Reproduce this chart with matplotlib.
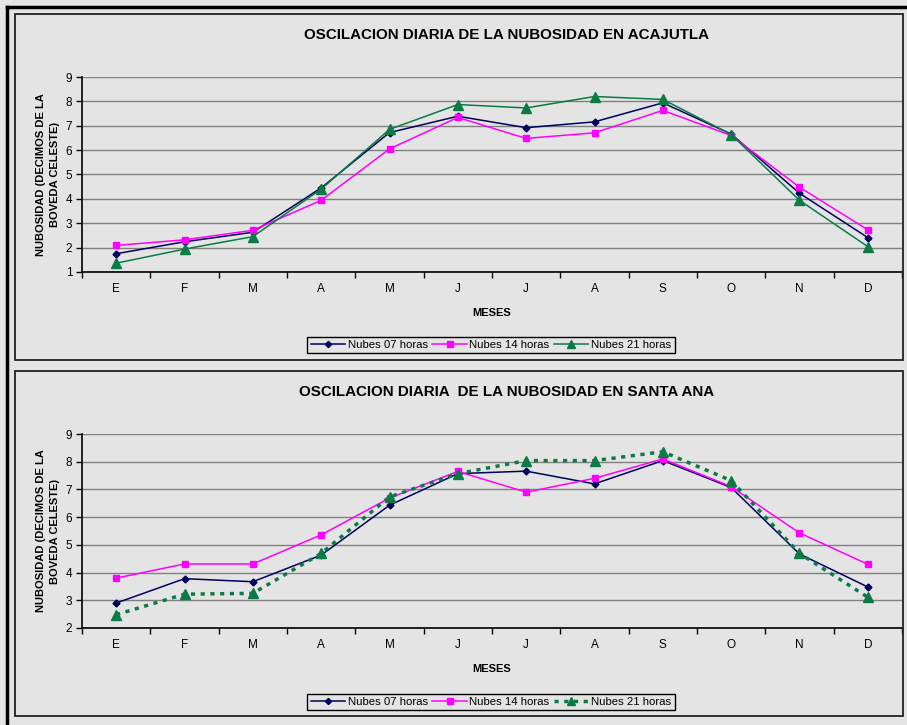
import numpy as np
import matplotlib.pyplot as plt
from matplotlib.patches import Rectangle
from matplotlib.lines import Line2D

plt.rcParams["font.family"] = ["Liberation Sans", "DejaVu Sans"]

meses = ["E", "F", "M", "A", "M", "J", "J", "A", "S", "O", "N", "D"]
series_names = ["Nubes 07 horas", "Nubes 14 horas", "Nubes 21 horas"]

acajutla_07 = [1.75, 2.24, 2.63, 4.45, 6.72, 7.39, 6.92, 7.16, 7.94, 6.66, 4.23, 2.41]
acajutla_14 = [2.09, 2.32, 2.71, 3.94, 6.05, 7.34, 6.48, 6.71, 7.63, 6.60, 4.48, 2.73]
acajutla_21 = [1.36, 1.94, 2.45, 4.40, 6.85, 7.87, 7.73, 8.20, 8.08, 6.64, 3.94, 2.04]

santaana_07 = [2.90, 3.78, 3.67, 4.63, 6.43, 7.57, 7.66, 7.20, 8.04, 7.07, 4.67, 3.48]
santaana_14 = [3.80, 4.31, 4.31, 5.36, 6.69, 7.65, 6.90, 7.40, 8.10, 7.10, 5.43, 4.30]
santaana_21 = [2.48, 3.22, 3.25, 4.69, 6.73, 7.57, 8.04, 8.04, 8.36, 7.32, 4.69, 3.11]

W, H = 907, 725
BG = "#e4e4e4"
C07, C14, C21 = "#000060", "#ff00ff", "#0b7a45"

fig = plt.figure(figsize=(W / 100, H / 100), dpi=100, facecolor=BG)


def fx(px):
    return px / W


def fy(py):
    return 1 - py / H


# frames (pixel coords from top-left)
fig.add_artist(Line2D([fx(7), fx(7)], [fy(7), fy(725)], color="black", lw=2.5))
fig.add_artist(Line2D([fx(7), fx(907)], [fy(7), fy(7)], color="black", lw=2.5))
for top, bot in [(14, 360), (371, 716)]:
    fig.add_artist(Rectangle((fx(15), fy(bot)), fx(903) - fx(15), fy(top) - fy(bot),
                             transform=fig.transFigure, fill=False,
                             edgecolor="#222222", lw=1.3))


def draw(ax_top, ax_bot, title, title_y, ylo, s07, s14, s21, dotted, leg_y):
    ax = fig.add_axes([fx(82), fy(ax_bot), fx(902) - fx(82), fy(ax_top) - fy(ax_bot)])
    ax.set_facecolor(BG)
    x = np.arange(len(meses))
    ax.plot(x, s07, color=C07, lw=1.1, marker="D", ms=3.5, label=series_names[0])
    ax.plot(x, s14, color=C14, lw=1.1, marker="s", ms=5, label=series_names[1])
    if dotted:
        ax.plot(x, s21, color=C21, lw=2.5, ls=(0, (1.2, 1.6)), marker="^", ms=7,
                label=series_names[2])
    else:
        ax.plot(x, s21, color=C21, lw=1.1, marker="^", ms=7, label=series_names[2])
    ax.set_xlim(-0.5, len(meses) - 0.5)
    ax.set_ylim(ylo, 9)
    ax.set_yticks(range(ylo, 10))
    ax.set_xticks(x, labels=meses)
    ax.set_xticks(np.arange(-0.5, len(meses)), minor=True)
    ax.tick_params(axis="x", which="major", length=0, pad=8, labelsize=8.5)
    ax.tick_params(axis="x", which="minor", length=4, width=1, direction="out")
    ax.tick_params(axis="y", length=4, width=1, labelsize=8.5, pad=3)
    ax.grid(axis="y", color="#808080", lw=1)
    ax.set_axisbelow(True)
    for s in ["top", "right"]:
        ax.spines[s].set_visible(False)
    for s in ["left", "bottom"]:
        ax.spines[s].set_linewidth(1.2)
    ax.set_xlabel("MESES", fontsize=8, fontweight="bold", labelpad=9)
    ax.set_ylabel("NUBOSIDAD (DECIMOS DE LA\nBOVEDA CELESTE)", fontsize=8,
                  fontweight="bold", labelpad=4, linespacing=1.5)
    fig.text(fx(507), fy(title_y), title, ha="center", va="center",
             fontsize=10.9, fontweight="bold")
    leg = fig.legend(handles=ax.get_lines(), loc="center", ncol=3,
                     bbox_to_anchor=(fx(491), fy(leg_y)), fontsize=8.2,
                     frameon=True, fancybox=False, edgecolor="black",
                     facecolor=BG, framealpha=1, handlelength=3,
                     columnspacing=0.4, handletextpad=0.25, borderpad=0.3,
                     markerscale=0.9)
    leg.get_frame().set_linewidth(1)


draw(77, 272, "OSCILACION DIARIA DE LA NUBOSIDAD EN ACAJUTLA", 35, 1,
     acajutla_07, acajutla_14, acajutla_21, False, 345)
draw(434, 628, "OSCILACION DIARIA  DE LA NUBOSIDAD EN SANTA ANA", 392, 2,
     santaana_07, santaana_14, santaana_21, True, 702)

fig.savefig("out.png", dpi=100, facecolor=BG)
